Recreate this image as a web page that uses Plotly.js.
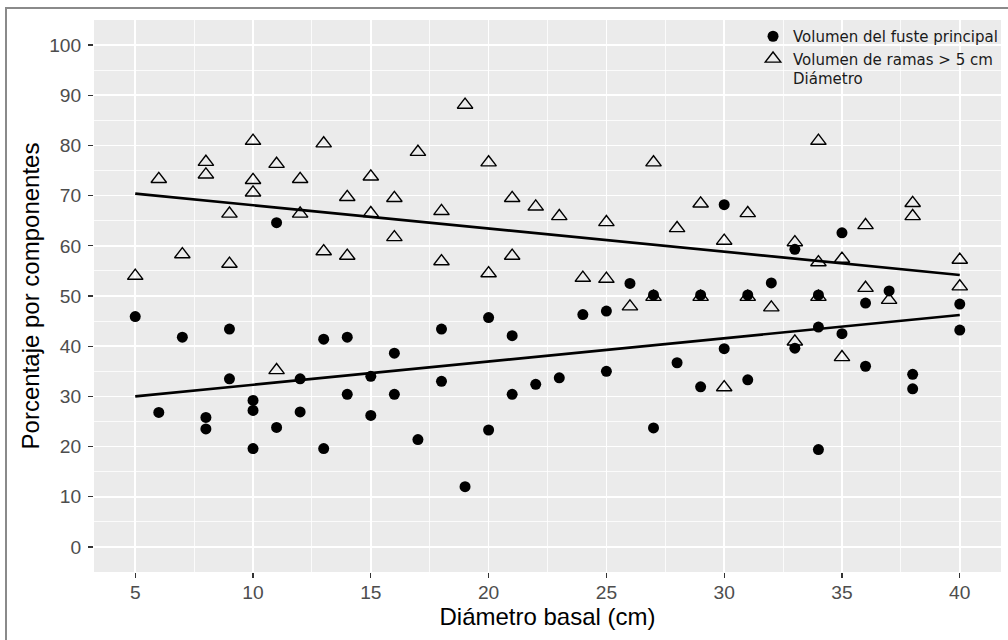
<!DOCTYPE html>
<html>
<head>
<meta charset="utf-8">
<script src="https://cdn.plot.ly/plotly-3.0.1.min.js"></script>
<style>
  html, body { margin: 0; padding: 0; background: #ffffff; }
  #wrap { position: relative; width: 1008px; height: 640px; }
  #chart { width: 1008px; height: 640px; }
  #frame { position: absolute; left: 5px; top: 7px; width: 1100px; height: 700px;
           border-left: 2px solid #8a8a8a; border-top: 2px solid #8a8a8a; pointer-events: none; }
</style>
</head>
<body>
<div id="wrap">
  <div id="chart"></div>
  <div id="frame"></div>
</div>
<script>
// Diámetro basal (cm) of each tree
const diametro = [5,6,7,8,8,9,9,10,10,10,11,11,12,12,13,13,14,14,15,15,16,16,17,18,18,19,20,20,21,21,22,23,24,25,25,26,27,27,28,29,29,30,30,31,31,32,33,33,34,34,34,35,35,36,36,37,38,38,40,40];
// Volumen del fuste principal (%)
const fuste = [45.9,26.8,41.8,23.5,25.8,33.5,43.4,19.6,27.2,29.2,23.8,64.6,26.9,33.5,19.6,41.4,30.4,41.8,26.2,34.0,30.4,38.6,21.4,33.0,43.4,12.0,23.3,45.7,30.4,42.1,32.4,33.7,46.3,35.0,47.0,52.5,23.7,50.2,36.7,31.9,50.2,68.2,39.5,33.3,50.2,52.6,59.3,39.6,19.4,43.8,50.2,62.6,42.5,48.6,36.0,51.0,31.5,34.4,43.2,48.4];
// Volumen de ramas > 5 cm Diámetro (%)
const ramas = [54.0,73.3,58.3,76.7,74.2,66.4,56.4,80.9,73.1,70.6,76.3,35.2,73.3,66.4,80.4,58.9,69.7,58.0,73.8,66.5,69.5,61.7,78.7,66.9,56.9,88.1,76.6,54.5,69.5,58.0,67.8,65.9,53.6,64.7,53.4,47.9,76.6,49.8,63.5,68.4,49.8,31.8,61.0,66.5,49.8,47.7,40.9,60.7,80.9,56.7,49.8,37.8,57.4,51.6,64.1,49.2,68.5,65.9,57.2,51.9];
// Fitted linear trend end points
const trendX = [5, 40];
const trendFuste = [30.0, 46.2];
const trendRamas = [70.4, 54.2];

const xTicks = [5,10,15,20,25,30,35,40];
const yTicks = [0,10,20,30,40,50,60,70,80,90,100];

const tickFont = {family: 'Liberation Sans, Arial, sans-serif', size: 19.2, color: '#4D4D4D'};
const titleFont = {family: 'Liberation Sans, Arial, sans-serif', size: 24, color: '#000000'};

const traces = [
  {
    x: diametro, y: ramas, type: 'scatter', mode: 'markers',
    name: 'Volumen de ramas > 5 cm<br>Diámetro', legendrank: 2,
    marker: {symbol: 'triangle-up-open', size: 13.5, color: '#000000', line: {color: '#000000', width: 1.4}},
    hoverinfo: 'x+y'
  },
  {
    x: diametro, y: fuste, type: 'scatter', mode: 'markers',
    name: 'Volumen del fuste principal', legendrank: 1,
    marker: {symbol: 'circle', size: 11, color: '#000000'},
    hoverinfo: 'x+y'
  },
  {
    x: trendX, y: trendFuste, type: 'scatter', mode: 'lines', showlegend: false,
    line: {color: '#000000', width: 2.6}, hoverinfo: 'skip'
  },
  {
    x: trendX, y: trendRamas, type: 'scatter', mode: 'lines', showlegend: false,
    line: {color: '#000000', width: 2.6}, hoverinfo: 'skip'
  }
];

const layout = {
  width: 1008, height: 640,
  margin: {l: 94, r: 6, t: 20, b: 68, pad: 0},
  paper_bgcolor: '#FFFFFF',
  plot_bgcolor: '#EBEBEB',
  showlegend: true,
  legend: {
    x: 0.7258, y: 1.0, xanchor: 'left', yanchor: 'top',
    bgcolor: 'rgba(0,0,0,0)', borderwidth: 0,
    font: {family: 'DejaVu Sans, Verdana, sans-serif', size: 15, color: '#1a1a1a'},
    valign: 'top', traceorder: 'normal'
  },
  xaxis: {
    range: [3.25, 41.75], autorange: false,
    tickmode: 'array', tickvals: xTicks, ticktext: xTicks.map(String),
    ticks: 'outside', ticklen: 5, tickwidth: 1.2, tickcolor: '#333333',
    tickfont: tickFont, ticklabelstandoff: -2,
    showgrid: true, gridcolor: '#FFFFFF', gridwidth: 1.6,
    minor: {dtick: 2.5, tick0: 2.5, showgrid: true, gridcolor: '#FFFFFF', gridwidth: 0.8, ticks: ''},
    zeroline: false, showline: false, automargin: false,
    title: {text: 'Diámetro basal (cm)', font: titleFont, standoff: 0}
  },
  yaxis: {
    range: [-5, 105], autorange: false,
    tickmode: 'array', tickvals: yTicks, ticktext: yTicks.map(String),
    ticks: 'outside', ticklen: 5, tickwidth: 1.2, tickcolor: '#333333',
    tickfont: tickFont, ticklabelstandoff: 3,
    showgrid: true, gridcolor: '#FFFFFF', gridwidth: 1.6,
    minor: {dtick: 5, tick0: 5, showgrid: true, gridcolor: '#FFFFFF', gridwidth: 0.8, ticks: ''},
    zeroline: false, showline: false, automargin: false,
    title: {text: 'Porcentaje por componentes', font: titleFont, standoff: 2}
  }
};

Plotly.newPlot('chart', traces, layout, {displayModeBar: false, staticPlot: true});
</script>
</body>
</html>
